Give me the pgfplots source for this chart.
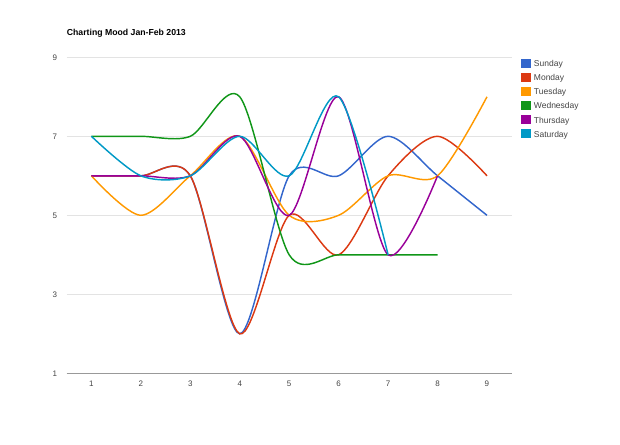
\documentclass[border=0pt]{standalone}
\usepackage{fontspec}
\setmainfont{Liberation Sans}
\usepackage{pgfplots}
\pgfplotsset{compat=1.18}

\definecolor{gsun}{HTML}{3366CC}
\definecolor{gmon}{HTML}{DC3912}
\definecolor{gtue}{HTML}{FF9900}
\definecolor{gwed}{HTML}{109618}
\definecolor{gthu}{HTML}{990099}
\definecolor{gsat}{HTML}{0099C6}
\definecolor{gridc}{HTML}{E3E3E3}
\definecolor{axisc}{HTML}{999999}
\definecolor{labc}{HTML}{444444}

\begin{document}
\begin{tikzpicture}[x=1pt,y=1pt]
\useasboundingbox (0,0) rectangle (620,444);
\begin{axis}[
  at={(66.7pt,70.7pt)}, anchor=south west,
  scale only axis, width=445pt, height=316pt,
  xmin=0.5, xmax=9.5, ymin=1, ymax=9,
  xtick={1,...,9}, ytick={1,3,5,7,9},
  axis lines=left, axis line style={-},
  y axis line style={draw=none},
  x axis line style={axisc, line width=0.8pt},
  major tick length=0pt,
  ymajorgrids, grid style={gridc, line width=0.8pt},
  /pgf/number format/assume math mode=true,
  tick label style={font=\fontsize{8}{9}\selectfont, text=labc, inner sep=0pt},
  xticklabel style={anchor=base, yshift=-12.9pt},
  yticklabel style={anchor=base east, xshift=-9.5pt, yshift=-2.9pt},
  title={Charting Mood Jan-Feb 2013},
  title style={at={(0,1)}, anchor=base west, yshift=16pt, inner sep=0pt,
    font=\fontsize{8.7}{10}\selectfont\bfseries},
  every axis plot/.append style={smooth, tension=0.5, line width=1.45pt, mark=none},
  legend cell align=left,
  legend image code/.code={\fill[#1] (0pt,-0.5pt) rectangle (8pt,7.3pt);},
  legend style={at={(1.0209,0.9968)}, anchor=north west, draw=none, fill=none,
    inner sep=0pt, column sep=3.3pt, row sep=4.1pt,
    font=\fontsize{8.5}{10}\selectfont,
    nodes={inner sep=0pt, text height=7pt, text depth=2pt, text=labc, anchor=base west},
    cells={anchor=base west}},
]
\addplot[gsun] coordinates {(1,6)(2,6)(3,6)(4,2)(5,6)(6,6)(7,7)(8,6)(9,5)};
\addlegendentry{Sunday}
\addplot[gmon] coordinates {(1,6)(2,6)(3,6)(4,2)(5,5)(6,4)(7,6)(8,7)(9,6)};
\addlegendentry{Monday}
\addplot[gtue] coordinates {(1,6)(2,5)(3,6)(4,7)(5,5)(6,5)(7,6)(8,6)(9,8)};
\addlegendentry{Tuesday}
\addplot[gwed] coordinates {(1,7)(2,7)(3,7)(4,8)(5,4)(6,4)(7,4)(8,4)};
\addlegendentry{Wednesday}
\addplot[gthu] coordinates {(1,6)(2,6)(3,6)(4,7)(5,5)(6,8)(7,4)(8,6)};
\addlegendentry{Thursday}
\addplot[gsat] coordinates {(1,7)(2,6)(3,6)(4,7)(5,6)(6,8)(7,4)};
\addlegendentry{Saturday}
\end{axis}
\end{tikzpicture}
\end{document}
